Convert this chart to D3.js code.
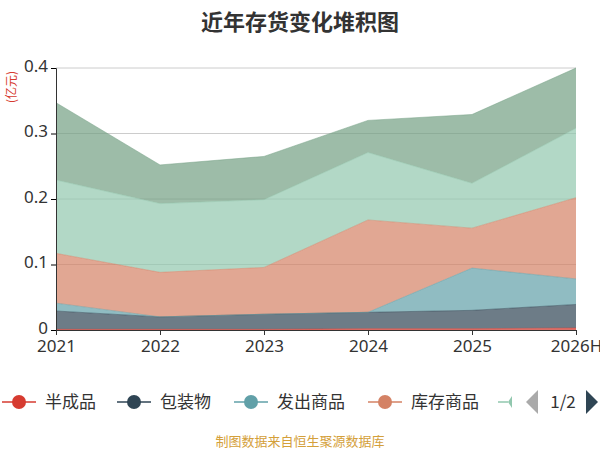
<!DOCTYPE html>
<html><head><meta charset="utf-8">
<script src="https://cdn.jsdelivr.net/npm/d3@7/dist/d3.min.js"></script>
<style>body{margin:0;background:#fff;font-family:"Noto Sans CJK SC","Noto Sans",sans-serif}</style>
</head><body><svg id="c" width="600" height="450"></svg>
<script>
const years = ["2021","2022","2023","2024","2025","2026H"];
const seriesNames = ["半成品","包装物","发出商品","库存商品","原材料","在产品"];
const colors = ["#d63b30","#2f4554","#61a0a8","#d48265","#91c7ae","#749f83"];
const banChengPin = [0.001,0.001,0.001,0.002,0.002,0.003];
const baoZhuangWu = [0.028,0.019,0.023,0.025,0.028,0.036];
const faChuShangPin = [0.012,0,0,0,0.0645,0.039];
const kuCunShangPin = [0.076,0.068,0.0715,0.141,0.061,0.124];
const yuanCaiLiao = [0.112,0.105,0.1035,0.103,0.0685,0.106];
const zaiChanPin = [0.118,0.059,0.066,0.049,0.105,0.092];
const yTicks = [0,0.1,0.2,0.3,0.4];
const all = [banChengPin,baoZhuangWu,faChuShangPin,kuCunShangPin,yuanCaiLiao,zaiChanPin];
const rows = years.map((y,i)=>{const r={year:y};seriesNames.forEach((n,k)=>r[n]=all[k][i]);return r;});
const svg = d3.select("#c");
const x = d3.scalePoint().domain(years).range([56,576]);
const y = d3.scaleLinear().domain([0,0.4]).range([330,68]);
svg.append("text").attr("x",300).attr("y",30).attr("text-anchor","middle").attr("font-size",22).attr("font-weight","bold").attr("fill","#333").text("近年存货变化堆积图");
svg.append("g").selectAll("line").data(yTicks).join("line").attr("x1",56).attr("x2",576).attr("y1",d=>y(d)).attr("y2",d=>y(d)).attr("stroke","#ccc");
const stack = d3.stack().keys(seriesNames)(rows);
const area = d3.area().x(d=>x(d.data.year)).y0(d=>y(d[0])).y1(d=>y(d[1]));
svg.append("g").selectAll("path").data(stack).join("path").attr("d",area).attr("fill",(d,i)=>colors[i]).attr("fill-opacity",0.7);
const line = d3.line().x(d=>x(d.data.year)).y(d=>y(d[1]));
svg.append("g").selectAll("path").data(stack).join("path").attr("d",line).attr("fill","none").attr("stroke",(d,i)=>colors[i]).attr("stroke-opacity",0.5).attr("stroke-width",1);
const ya = svg.append("g").attr("transform","translate(56,0)").call(d3.axisLeft(y).tickValues(yTicks).tickFormat(d=>d===0?"0":d3.format(".1f")(d)).tickSize(5));
ya.selectAll("text").attr("font-size",17).attr("fill","#333").attr("font-family","Noto Sans, sans-serif").attr("dy","0.2em");
ya.select(".domain").attr("stroke","#333");
const xa = svg.append("g").attr("transform","translate(0,330)").call(d3.axisBottom(x).tickSize(5).tickSizeOuter(0));
xa.selectAll("text").attr("font-size",17).attr("fill","#333").attr("font-family","Noto Sans, sans-serif").attr("dy","0.85em");
xa.selectAll("line,.domain").attr("stroke","#333");
svg.append("text").attr("transform","translate(16,87) rotate(-90)").attr("text-anchor","middle").attr("font-size",12).attr("fill","#d63b30").text("(亿元)");
const lg = svg.append("g");
const items=[{n:"半成品",x:0},{n:"包装物",x:115},{n:"发出商品",x:232},{n:"库存商品",x:366}];
items.forEach((it,i)=>{
  lg.append("line").attr("x1",it.x+2).attr("x2",it.x+36).attr("y1",402).attr("y2",402).attr("stroke",colors[i]).attr("stroke-width",1.5);
  lg.append("circle").attr("cx",it.x+19).attr("cy",402).attr("r",7).attr("fill",colors[i]);
  lg.append("text").attr("x",it.x+45).attr("y",408).attr("font-size",17).attr("fill","#333").text(it.n);
});
lg.append("line").attr("x1",498).attr("x2",508).attr("y1",402).attr("y2",402).attr("stroke",colors[4]).attr("stroke-width",1.5);
lg.append("path").attr("d","M508,402 L512,396 L512,408Z").attr("fill",colors[4]);
lg.append("path").attr("d","M526,402 L538,390 L538,414Z").attr("fill","#aaa");
lg.append("text").attr("x",563).attr("y",408).attr("font-size",17).attr("fill","#333").attr("text-anchor","middle").text("1/2");
lg.append("path").attr("d","M598,402 L586,390 L586,414Z").attr("fill","#2f4554");
svg.append("text").attr("x",300).attr("y",446).attr("text-anchor","middle").attr("font-size",13).attr("fill","#d4a03a").text("制图数据来自恒生聚源数据库");
</script></body></html>
